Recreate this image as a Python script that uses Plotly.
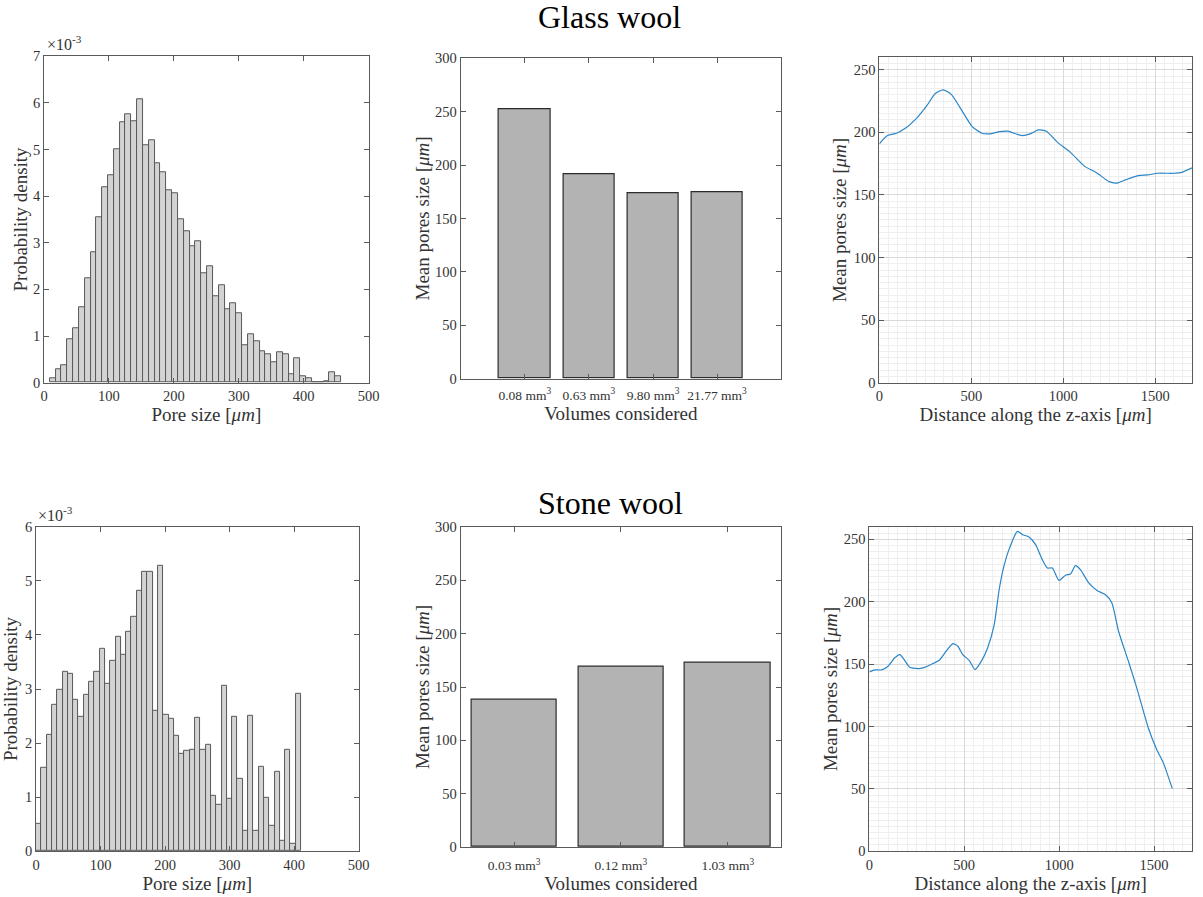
import plotly.graph_objects as go

# ---------------- data ----------------
# Pore size histograms (probability density, in units of 1e-3)
glass_bin_start = 8.8
glass_bin_width = 8.98
glass_density_e3 = [0.09, 0.29, 0.38, 0.92, 1.17, 1.62, 2.24, 2.80, 3.54, 4.20,
                    4.45, 5.00, 5.59, 5.76, 5.60, 6.07, 5.10, 5.19, 4.70, 4.52,
                    4.12, 4.07, 3.51, 3.24, 2.93, 3.03, 2.35, 2.49, 1.86, 2.08,
                    1.57, 1.71, 1.48, 0.81, 1.03, 0.89, 0.68, 0.61, 0.44, 0.65,
                    0.61, 0.19, 0.52, 0.13, 0.10, 0.01, 0.01, 0.03, 0.22, 0.14]

stone_bin_start = 0.0
stone_bin_width = 8.22
stone_density_e3 = [0.50, 1.54, 2.16, 2.70, 2.99, 3.32, 3.29, 2.80, 2.49, 2.90,
                    3.14, 3.32, 3.74, 3.10, 3.52, 3.96, 3.63, 4.06, 4.33, 4.81,
                    5.17, 5.16, 2.59, 5.27, 2.52, 2.44, 2.14, 1.80, 1.85, 1.87,
                    2.47, 1.88, 1.97, 1.02, 0.86, 3.05, 0.97, 2.49, 1.34, 0.38,
                    2.50, 0.38, 1.56, 0.99, 0.47, 1.47, 0.19, 1.88, 0.14, 2.91]

# Mean pore size versus analysed volume
glass_volumes = ["0.08 mm<sup>3</sup>", "0.63 mm<sup>3</sup>", "9.80 mm<sup>3</sup>", "21.77 mm<sup>3</sup>"]
glass_mean_size = [251.8, 191.1, 173.6, 174.2]
stone_volumes = ["0.03 mm<sup>3</sup>", "0.12 mm<sup>3</sup>", "1.03 mm<sup>3</sup>"]
stone_mean_size = [137.8, 169.1, 172.8]

# Mean pore size along the z-axis
glass_z = [0, 44, 93, 137, 207, 259, 303, 347, 391, 443, 505, 557, 601, 654, 697,
           776, 820, 864, 908, 969, 1039, 1118, 1179, 1249, 1293, 1337, 1407,
           1460, 1512, 1600, 1644, 1700]
glass_z_mean = [190.8, 197.4, 199.3, 202.8, 212.0, 221.5, 230.8, 234.0, 230.3,
                218.8, 204.6, 199.3, 198.8, 200.6, 200.9, 197.4, 198.8, 202.0,
                200.9, 192.0, 184.0, 172.6, 168.0, 160.6, 159.5, 162.0, 165.4,
                166.0, 167.3, 167.3, 168.0, 171.6]

stone_z = [0, 30, 65, 100, 134, 161, 187, 213, 257, 283, 335, 370, 405, 440, 466,
           492, 527, 557, 588, 623, 658, 684, 711, 737, 780, 807, 841, 876, 911,
           938, 964, 999, 1034, 1060, 1086, 1112, 1156, 1200, 1243, 1278, 1313,
           1365, 1409, 1470, 1514, 1549, 1596]
stone_z_mean = [143.7, 145.3, 145.3, 148.5, 155.0, 157.6, 152.8, 147.4, 146.4,
                146.9, 150.4, 153.3, 160.3, 166.4, 164.3, 157.6, 152.8, 145.6,
                151.7, 162.9, 181.6, 209.7, 229.7, 242.3, 256.4, 253.7, 251.9,
                245.7, 233.7, 227.0, 227.0, 217.1, 221.2, 222.2, 228.9, 225.7,
                215.0, 208.9, 205.7, 199.0, 176.3, 152.2, 130.9, 98.8, 81.5,
                70.8, 50.2]

# ---------------- layout helpers ----------------
W, H = 1203, 897
# positions below are in screen pixels; the rendered page is offset and
# slightly scaled relative to the figure, so convert back to figure pixels
SX, OX = 0.986, 5.0
SY, OY = 0.981, 7.8
FONT = "Liberation Serif"
AXCOL = "#5a5a5a"
TXT = "#333333"


def clamp(v):
    return max(0.0, min(1.0, v))


def px(p):
    return clamp(((p - OX) / SX) / W)


def py(p):
    return clamp(1 - ((p - OY) / SY) / H)


def xdom(a, b):
    return [px(a), px(b)]


def ydom(top, bottom):
    return [py(bottom), py(top)]


def axis(**kw):
    base = dict(showline=True, linecolor=AXCOL, linewidth=1, mirror="allticks",
                ticks="inside", ticklen=5, tickcolor=AXCOL, tickwidth=1,
                tickfont=dict(family=FONT, size=14.5, color=TXT),
                zeroline=False, showgrid=False, fixedrange=True)
    base.update(kw)
    return base


def title(text, size=19, standoff=4):
    return dict(text=text, font=dict(family=FONT, size=size, color=TXT), standoff=standoff)


UM = "[<i>\u03bcm</i>]"

fig = go.Figure()

# histograms
glass_centers = [glass_bin_start + glass_bin_width * (i + 0.5) for i in range(len(glass_density_e3))]
stone_centers = [stone_bin_start + stone_bin_width * (i + 0.5) for i in range(len(stone_density_e3))]

hist_style = dict(marker=dict(color="#d3d3d3", line=dict(color="#595959", width=1)), showlegend=False)
fig.add_trace(go.Bar(x=glass_centers, y=glass_density_e3, width=glass_bin_width,
                     xaxis="x", yaxis="y", **hist_style))
fig.add_trace(go.Bar(x=stone_centers, y=stone_density_e3, width=stone_bin_width,
                     xaxis="x4", yaxis="y4", **hist_style))

# mean size vs volume
bar_style = dict(marker=dict(color="#b3b3b3", line=dict(color="#2b2b2b", width=1.2)),
                 width=0.8, showlegend=False)
fig.add_trace(go.Bar(x=list(range(1, len(glass_mean_size) + 1)), y=glass_mean_size,
                     xaxis="x2", yaxis="y2", **bar_style))
fig.add_trace(go.Bar(x=list(range(1, len(stone_mean_size) + 1)), y=stone_mean_size,
                     xaxis="x5", yaxis="y5", **bar_style))

# mean size along z
line_style = dict(mode="lines", line=dict(color="#2a86c8", width=1.2, shape="spline", smoothing=0.6),
                  showlegend=False)
fig.add_trace(go.Scatter(x=glass_z, y=glass_z_mean, xaxis="x3", yaxis="y3", **line_style))
fig.add_trace(go.Scatter(x=stone_z, y=stone_z_mean, xaxis="x6", yaxis="y6", **line_style))

grid_kw = dict(showgrid=True, gridcolor="#d9d9d9", gridwidth=1)


def minor(dt):
    return dict(dtick=dt, showgrid=True, gridcolor="#efefef", gridwidth=1, ticks="")


vol_font = dict(family=FONT, size=13.5, color=TXT)

fig.update_layout(
    width=W, height=H,
    margin=dict(l=0, r=0, t=0, b=0),
    paper_bgcolor="white", plot_bgcolor="white",
    bargap=0,
    # top row
    xaxis=axis(domain=xdom(45, 369), anchor="y", range=[0, 500], dtick=100,
               title=title("Pore size " + UM, standoff=3)),
    yaxis=axis(domain=ydom(56, 382), anchor="x", range=[0, 7], dtick=1,
               title=title("Probability density", standoff=0)),
    xaxis2=axis(domain=xdom(461, 781), anchor="y2", range=[0, 5],
                tickvals=list(range(1, len(glass_volumes) + 1)), ticktext=glass_volumes,
                tickfont=vol_font, ticklabelstandoff=4,
                title=title("Volumes considered", standoff=2)),
    yaxis2=axis(domain=ydom(58, 378), anchor="x2", range=[0, 300], dtick=50,
                title=title("Mean pores size " + UM, standoff=0)),
    xaxis3=axis(domain=xdom(879, 1203), anchor="y3", range=[0, 1700], dtick=500,
                minor=minor(50), title=title("Distance along the z-axis " + UM, standoff=2), **grid_kw),
    yaxis3=axis(domain=ydom(57, 382), anchor="x3", range=[0, 260], dtick=50,
                minor=minor(5), title=title("Mean pores size " + UM, standoff=2), **grid_kw),
    # bottom row
    xaxis4=axis(domain=xdom(37, 359), anchor="y4", range=[0, 500], dtick=100,
                title=title("Pore size " + UM, standoff=2)),
    yaxis4=axis(domain=ydom(526, 850), anchor="x4", range=[0, 6], dtick=1,
                title=title("Probability density", standoff=6)),
    xaxis5=axis(domain=xdom(461, 781), anchor="y5", range=[0.5, 3.5],
                tickvals=list(range(1, len(stone_volumes) + 1)), ticktext=stone_volumes,
                tickfont=vol_font, ticklabelstandoff=6,
                title=title("Volumes considered", standoff=0)),
    yaxis5=axis(domain=ydom(526, 846), anchor="x5", range=[0, 300], dtick=50,
                title=title("Mean pores size " + UM, standoff=0)),
    xaxis6=axis(domain=xdom(869, 1193), anchor="y6", range=[0, 1700], dtick=500,
                minor=minor(50), title=title("Distance along the z-axis " + UM, standoff=2), **grid_kw),
    yaxis6=axis(domain=ydom(526, 850), anchor="x6", range=[0, 260], dtick=50,
                minor=minor(5), title=title("Mean pores size " + UM, standoff=1), **grid_kw),
)

# row titles and exponent labels
ann = [
    dict(text="Glass wool", x=px(610), y=py(17), xanchor="center", yanchor="middle",
         font=dict(family=FONT, size=32, color="black")),
    dict(text="Stone wool", x=px(611), y=py(502), xanchor="center", yanchor="middle",
         font=dict(family=FONT, size=32, color="black")),
    dict(text="\u00d710<sup>-3</sup>", x=px(46), y=py(55), xanchor="left", yanchor="bottom",
         font=dict(family=FONT, size=16, color=TXT)),
    dict(text="\u00d710<sup>-3</sup>", x=px(37), y=py(525), xanchor="left", yanchor="bottom",
         font=dict(family=FONT, size=16, color=TXT)),
]
for a in ann:
    a.update(xref="paper", yref="paper", showarrow=False)
fig.update_layout(annotations=ann)

fig.write_html("out.html")
